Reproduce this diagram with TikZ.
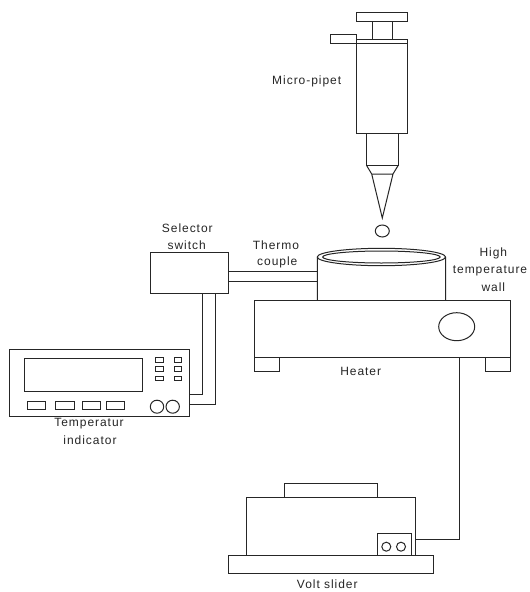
\documentclass[tikz,border=0pt]{standalone}
\usepackage{fontspec}
\setmainfont[LetterSpace=8]{Liberation Sans}
\usetikzlibrary{shapes.geometric}
\definecolor{ink}{gray}{0.15}
\tikzset{
  x=0.75pt,y=-0.75pt,
  line/.style={draw=ink,line width=0.75pt},
  box/.style={line,rectangle,inner sep=0pt,outer sep=0pt},
  oval/.style={line,ellipse,inner sep=0pt,outer sep=0pt},
  lab/.style={font=\fontsize{9}{11}\selectfont,text=ink,inner sep=0pt,align=center}
}
% name, x1, y1, x2, y2 in pixels
\newcommand{\bx}[5]{%
  \pgfmathsetmacro{\bw}{(#4-#2)*0.75}\pgfmathsetmacro{\bh}{(#5-#3)*0.75}%
  \node[box,minimum width=\bw pt,minimum height=\bh pt] (#1) at ({(#2+#4)/2},{(#3+#5)/2}) {};}
% name, cx, cy, rx, ry
\newcommand{\ov}[5]{%
  \pgfmathsetmacro{\bw}{#4*1.5}\pgfmathsetmacro{\bh}{#5*1.5}%
  \node[oval,minimum width=\bw pt,minimum height=\bh pt] (#1) at (#2,#3) {};}
\begin{document}
\begin{tikzpicture}
\useasboundingbox[fill=white] (0,0) rectangle (529,592);
% pipette
\bx{plunger}{356.7}{12.7}{407.3}{21.7}
\bx{tab}{330.7}{35}{356.7}{44}
\bx{flange}{356.7}{40}{407.3}{44}
\bx{body}{356.7}{44}{407.3}{133.7}
\bx{neck}{366.7}{133.7}{398}{165.7}
\coordinate (sa) at (372,21.7); \coordinate (sb) at (392.3,21.7);
\coordinate (sc) at (372,40); \coordinate (sd) at (392.3,40);
\draw[line] (sa) -- (sc) (sb) -- (sd);
\coordinate (tl) at (371.7,174); \coordinate (tr) at (393,174); \coordinate (tip) at (382.3,218);
\draw[line] (neck.south west) -- (tl) -- (tr) -- (neck.south east) (tl) -- (tip) -- (tr);
\ov{drop}{382.3}{231}{7}{6}
\node[lab] at (306.7,81.7) {Micro-pipet};
% selector
\bx{sel}{150.3}{252.7}{228.3}{293}
\node[lab] at (187.3,228.3) {Selector};
\node[lab] at (186.7,245) {switch};
% indicator
\bx{ind}{9}{349.7}{189.7}{416.3}
\bx{disp}{24.3}{358}{142.7}{391.3}
\bx{ka}{155.7}{357.7}{163.3}{362.7}
\bx{kb}{155.7}{366.7}{163.3}{371.7}
\bx{kc}{155.7}{376}{163.3}{380.7}
\bx{kd}{174}{357.7}{181.7}{362.7}
\bx{ke}{174}{366.7}{181.7}{371.7}
\bx{kf}{174}{376}{181.7}{380.7}
\bx{ba}{27}{401}{45.7}{409.7}
\bx{bb}{55.7}{401}{74}{409.7}
\bx{bc}{82.3}{401}{100.7}{409.7}
\bx{bd}{106.3}{401}{124.7}{409.7}
\ov{kna}{157}{406.7}{6.7}{6.5}
\ov{knb}{172.7}{406.7}{6.7}{6.5}
\node[lab] at (89,423.3) {Temperatur};
\node[lab] at (90,440.7) {indicator};
% heater and wall
\bx{heat}{254}{300}{510.7}{357.3}
\bx{fl}{254}{357.3}{279.3}{371.7}
\bx{fr}{485}{357.3}{510.7}{371.7}
\ov{hk}{456.7}{326.7}{18}{14}
\ov{rimo}{381.4}{257}{64.1}{8.7}
\ov{rimi}{381.4}{257}{58.7}{6}
\coordinate (wl) at (317.3,300); \coordinate (wr) at (445.5,300);
\draw[line] (rimo.west) -- (wl) (rimo.east) -- (wr);
\node[lab] at (276,245) {Thermo};
\node[lab] at (277.3,262.3) {couple};
\node[lab] at (493.3,253.3) {High};
\node[lab] at (490,271) {temperature};
\node[lab] at (493.3,287.3) {wall};
\node[lab] at (360.7,371.7) {Heater};
% volt slider
\bx{vtop}{284}{483.7}{377.3}{497.3}
\bx{vbody}{246.3}{497.3}{415.3}{555.3}
\bx{vbase}{228}{555.3}{433.3}{573.3}
\bx{vsw}{377.3}{533.7}{411}{555.3}
\ov{vca}{386.3}{546.7}{4.5}{4.5}
\ov{vcb}{401}{546.7}{4.5}{4.5}
\node[lab] at (327.3,584.3) {Volt slider};
% connectors
\coordinate (wa) at (202.3,394);
\coordinate (wb) at (215,404.7);
\draw[line] (sel.south -| wa) -- (wa) -- (ind.east |- wa);
\draw[line] (sel.south -| wb) -- (wb) -- (ind.east |- wb);
\coordinate (ta) at (317.3,271);
\coordinate (tb) at (317.3,281.7);
\draw[line] (sel.east |- ta) -- (ta);
\draw[line] (sel.east |- tb) -- (tb);
\coordinate (pw) at (459,539.3);
\draw[line] (heat.south -| pw) -- (pw) -- (vbody.east |- pw);
\end{tikzpicture}
\end{document}
